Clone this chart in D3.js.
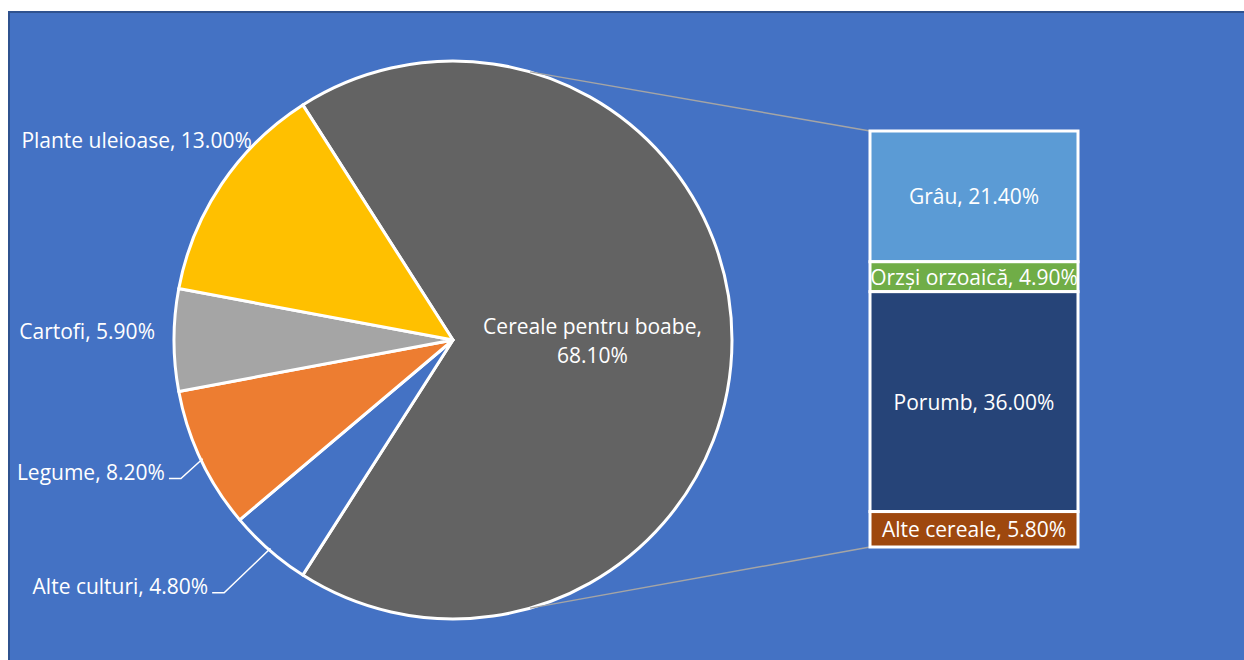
<!DOCTYPE html>
<html>
<head>
<meta charset="utf-8">
<script src="https://cdn.jsdelivr.net/npm/d3@7"></script>
<style>
  body { margin: 0; background: #fff; }
  text { font-family: "Open Sans", "Noto Sans", sans-serif; fill: #fff; }
</style>
</head>
<body>
<svg id="chart" width="1244" height="660"></svg>
<script>
// pie categories (clockwise from the split slice)
var pieNames = ["Cereale pentru boabe", "Alte culturi", "Legume", "Cartofi", "Plante uleioase"];
var pieValues = [68.1, 4.8, 8.2, 5.9, 13.0];
var pieColors = ["#636363", "#4472C4", "#ED7D31", "#A5A5A5", "#FFC000"];

// breakdown of the cereal slice
var barNames = ["Grâu", "Orzși orzoaică", "Porumb", "Alte cereale"];
var barValues = [21.4, 4.9, 36.0, 5.8];
var barColors = ["#5B9BD5", "#70AD47", "#264478", "#9E480E"];

var svg = d3.select("#chart");

// chart area
svg.append("rect")
    .attr("x", 9).attr("y", 12)
    .attr("width", 1244).attr("height", 660)
    .attr("fill", "#4472C4")
    .attr("stroke", "#2F528F")
    .attr("stroke-width", 2);

var cx = 453, cy = 340, radius = 279;
var fmt = function (v) { return v.toFixed(2) + "%"; };

var total = d3.sum(pieValues);
var half = pieValues[0] / total * Math.PI;   // split slice centred on 3 o'clock

var pie = d3.pie().sort(null)
    .startAngle(Math.PI / 2 - half)
    .endAngle(Math.PI / 2 - half + 2 * Math.PI);

var arcs = pie(pieValues);

var arc = d3.arc().innerRadius(0).outerRadius(radius);

var g = svg.append("g").attr("transform", "translate(" + cx + "," + cy + ")");

function pt(angle, r) {
    return [Math.sin(angle) * r, -Math.cos(angle) * r];
}

// connector lines from the cereal slice to the bar
var barX = 870, barW = 208, barTop = 131, barBottom = 547;

var p1 = pt(0.28, radius), p2 = pt(Math.PI - 0.28, radius);
svg.append("line")
    .attr("x1", cx + p1[0]).attr("y1", cy + p1[1])
    .attr("x2", barX).attr("y2", barTop)
    .attr("stroke", "#A5A5A5").attr("stroke-width", 1.5);
svg.append("line")
    .attr("x1", cx + p2[0]).attr("y1", cy + p2[1])
    .attr("x2", barX).attr("y2", barBottom)
    .attr("stroke", "#A5A5A5").attr("stroke-width", 1.5);

g.selectAll("path.slice")
    .data(arcs)
    .enter()
    .append("path")
    .attr("class", "slice")
    .attr("d", arc)
    .attr("fill", function (d, i) { return pieColors[i]; })
    .attr("stroke", "#fff")
    .attr("stroke-width", 3)
    .attr("stroke-linejoin", "round");

// pie labels
var fs = 21;
var c0 = d3.arc().innerRadius(0).outerRadius(radius * 1.0).centroid(arcs[0]);
var mainLabel = g.append("text")
    .attr("text-anchor", "middle")
    .attr("font-size", fs);
mainLabel.append("tspan").attr("x", c0[0]).attr("y", c0[1] - 6).text(pieNames[0] + ",");
mainLabel.append("tspan").attr("x", c0[0]).attr("y", c0[1] + 23).text(fmt(pieValues[0]));

// outer labels: [label end x, label y] relative to pie edge at mid angle
var labelShift = [null, [-61, 36], [-36, 12], [-19, -9], [30, -44]];
var leader = [false, true, true, false, false];

arcs.forEach(function (d, i) {
    if (i === 0) return;
    var mid = (d.startAngle + d.endAngle) / 2;
    var e = pt(mid, radius);
    var lx = e[0] + labelShift[i][0], ly = e[1] + labelShift[i][1];
    g.append("text")
        .attr("x", lx)
        .attr("y", ly)
        .attr("text-anchor", "end")
        .attr("dominant-baseline", "central")
        .attr("font-size", fs)
        .text(pieNames[i] + ", " + fmt(pieValues[i]));
    if (leader[i]) {
        var ex = pt(mid, radius - 2);
        g.append("polyline")
            .attr("points", [[ex[0], ex[1]], [lx + 16, ly + 7], [lx + 4, ly + 7]].join(" "))
            .attr("fill", "none")
            .attr("stroke", "#fff")
            .attr("stroke-width", 1.5);
    }
});

// bar of the cereal breakdown
var stack = [];
var acc = 0;
barValues.forEach(function (v, i) { stack.push({ name: barNames[i], value: v, y0: acc, y1: acc + v }); acc += v; });

var yScale = d3.scaleLinear().domain([0, acc]).range([barTop, barBottom]);

var bars = svg.append("g");
bars.selectAll("rect")
    .data(stack)
    .enter()
    .append("rect")
    .attr("x", barX)
    .attr("y", function (d) { return yScale(d.y0); })
    .attr("width", barW)
    .attr("height", function (d) { return yScale(d.y1) - yScale(d.y0); })
    .attr("fill", function (d, i) { return barColors[i]; })
    .attr("stroke", "#fff")
    .attr("stroke-width", 3);

bars.selectAll("text")
    .data(stack)
    .enter()
    .append("text")
    .attr("x", barX + barW / 2)
    .attr("y", function (d) { return (yScale(d.y0) + yScale(d.y1)) / 2; })
    .attr("text-anchor", "middle")
    .attr("dominant-baseline", "central")
    .attr("font-size", fs)
    .text(function (d) { return d.name + ", " + fmt(d.value); });
</script>
</body>
</html>
